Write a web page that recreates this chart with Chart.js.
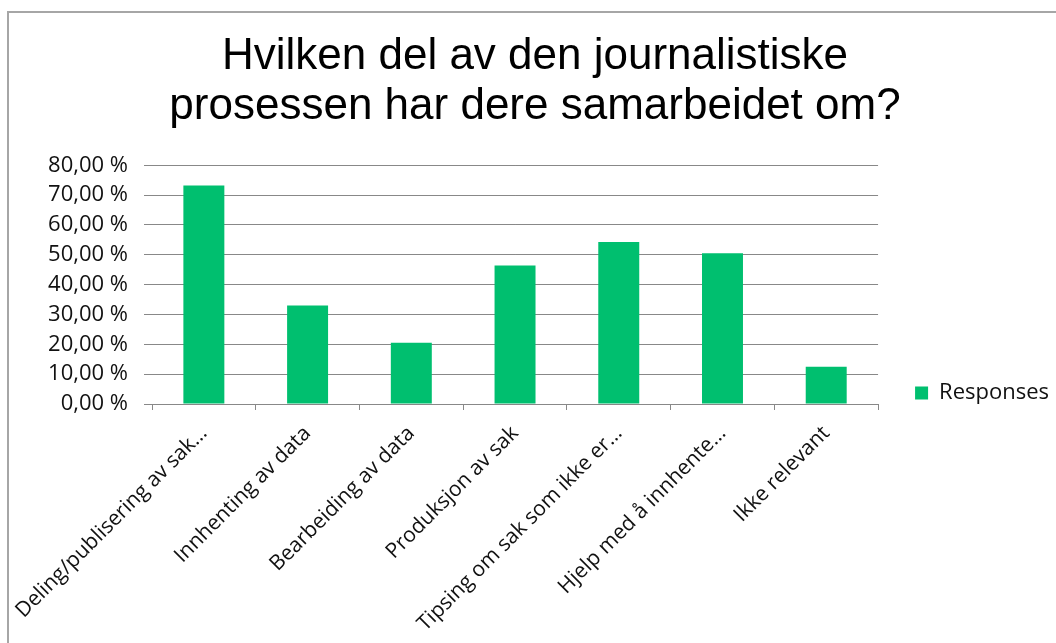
<!DOCTYPE html>
<html><head><meta charset="utf-8">
<script src="https://cdn.jsdelivr.net/npm/chart.js@4/dist/chart.umd.min.js"></script>
<style>
html,body{margin:0;padding:0;background:#fff;overflow:hidden}
#wrap{position:relative;width:1056px;height:643px;overflow:hidden}
#frame{position:absolute;left:7px;top:11px;width:1200px;height:800px;border-left:2px solid #a6a6a6;border-top:2px solid #a6a6a6;pointer-events:none}
canvas{position:absolute;left:0;top:0}
</style></head><body>
<div id="wrap"><canvas id="c" width="1056" height="643"></canvas><div id="frame"></div></div>
<script>
const titleLines = ['Hvilken del av den journalistiske', 'prosessen har dere samarbeidet om?'];
const categories = ['Deling/publisering av sak…', 'Innhenting av data', 'Bearbeiding av data', 'Produksjon av sak', 'Tipsing om sak som ikke er…', 'Hjelp med å innhente…', 'Ikke relevant'];
const seriesName = 'Responses';
const responses = [73.2, 33.0, 20.5, 46.4, 54.3, 50.5, 12.5];
const yMin = 0, yMax = 80, yStep = 10;

const FONT = 'Open Sans';
const legendPlace = {
  id: 'legendPlace',
  afterLayout(chart) {
    const lg = chart.legend;
    if (!lg) return;
    const p = lg.options.labels.padding;
    const w = lg.width, h = lg.height;
    lg.left = chart.chartArea.right + 37 - p;
    lg.right = lg.left + w;
    lg.top = 393 - p - 11;
    lg.bottom = lg.top + h;
  }
};

new Chart(document.getElementById('c'), {
  type: 'bar',
  data: {
    labels: categories,
    datasets: [{
      label: seriesName,
      data: responses,
      backgroundColor: '#00BF6F',
      borderWidth: 0,
      categoryPercentage: 1,
      barPercentage: 0.395
    }]
  },
  plugins: [legendPlace],
  options: {
    responsive: false,
    animation: false,
    devicePixelRatio: 1,
    layout: { autoPadding: false, padding: { left: 38, right: 24, top: 12, bottom: 0 } },
    plugins: {
      title: {
        display: true,
        text: titleLines,
        color: '#000',
        font: { family: 'Liberation Sans', size: 44, weight: 'normal', lineHeight: 1.14 },
        padding: { top: 20, bottom: 33 }
      },
      legend: {
        position: 'right',
        fullSize: false,
        align: 'start',
        labels: {
          boxWidth: 13, boxHeight: 13, padding: 10,
          color: '#111',
          font: { family: FONT, size: 22 }
        }
      },
      tooltip: { enabled: false }
    },
    scales: {
      x: {
        grid: { offset: true, drawOnChartArea: false, tickLength: 6, color: '#888', lineWidth: 1 },
        border: { display: true, color: '#888', width: 1 },
        ticks: { autoSkip: false, minRotation: 45, maxRotation: 45, padding: 11, color: '#111', font: { family: FONT, size: 21 } },
        afterFit(s) { s.height = 239; s.paddingLeft = 0; s.paddingRight = 0; }
      },
      y: {
        min: yMin, max: yMax,
        grid: { color: '#888', lineWidth: 1, tickLength: 8 },
        border: { display: false },
        ticks: {
          stepSize: yStep, padding: 16, color: '#111',
          font: { family: FONT, size: 22 },
          callback: v => v.toFixed(2).replace('.', ',') + ' %'
        },
        afterFit(s) { s.width = 114; s.paddingTop = 0; s.paddingBottom = 0; }
      }
    }
  }
});
</script>
</body></html>
